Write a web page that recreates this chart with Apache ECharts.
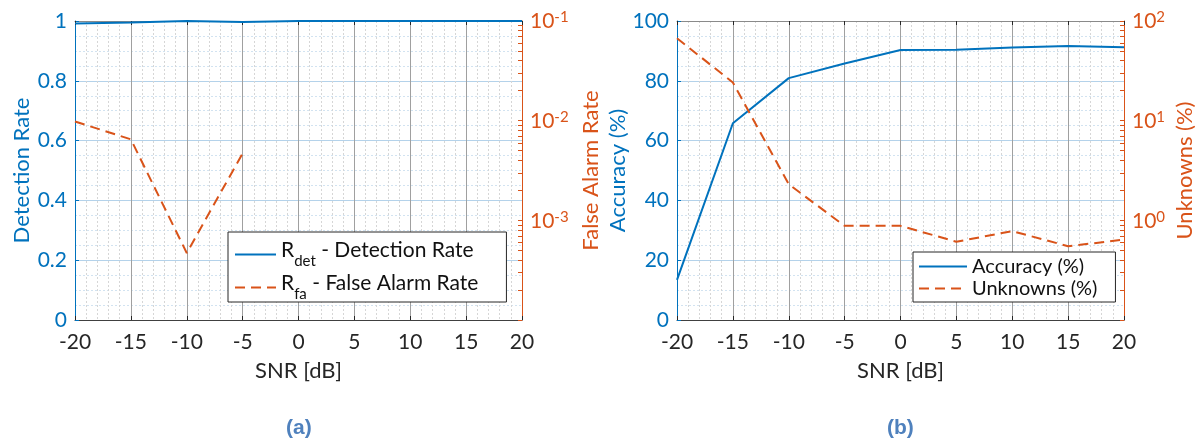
<!DOCTYPE html>
<html>
<head>
<meta charset="utf-8">
<script src="https://cdn.jsdelivr.net/npm/echarts@6/dist/echarts.min.js"></script>
<style>
  html, body { margin: 0; padding: 0; background: #fff; }
  #chart { width: 1204px; height: 446px; }
</style>
</head>
<body>
<div id="chart"></div>
<script>
// SNR sweep shared by both panels
const snr = [-20, -15, -10, -5, 0, 5, 10, 15, 20];

// Panel (a): detection rate (linear, left) and false alarm rate (log, right)
const detectionRate = [0.992, 0.995, 1.0, 0.997, 1.0, 1.0, 1.0, 1.0, 1.0];
const falseAlarmRate = [0.0098, 0.0065, 0.00047, 0.0047, null, null, null, null, null];

// Panel (b): accuracy (linear, left) and unknowns (log, right)
const accuracy = [13.4, 65.8, 80.9, 85.8, 90.3, 90.4, 91.1, 91.6, 91.2];
const unknowns = [67, 24.2, 2.3, 0.88, 0.88, 0.61, 0.78, 0.55, 0.64];

// Labelled decades on the log axes
const faDecades = [1e-3, 1e-2, 1e-1];
const unkDecades = [1, 10, 100];

// Legend texts (rich markup for the subscripts)
const legendA = {
  det: '{m|R}{sub|det}{m| - Detection Rate}',
  fa: '{m|R}{sub|fa}{m| - False Alarm Rate}'
};
const legendB = ['Accuracy (%)', 'Unknowns (%)'];

const FONT = 'Lato';
const BLUE = '#0072BD';
const ORANGE = '#D95319';
const INK = '#262626';

// minor ticks 1..9 x 10^k between the log axis limits
function logTicks(lo, hi) {
  const out = [];
  for (let d = lo; d < hi * 0.999; d *= 10) {
    for (let m = 1; m < 10; m++) out.push(+(d * m).toPrecision(3));
  }
  out.push(hi);
  return out;
}

function decadeLabel(v) {
  const e = Math.round(Math.log10(v));
  return '{b|10}{s|' + e + '}';
}

const supRich = {
  b: { fontSize: 21, lineHeight: 22, verticalAlign: 'bottom', color: ORANGE, fontFamily: FONT },
  s: { fontSize: 15, lineHeight: 14, padding: [0, 0, 14, 0], verticalAlign: 'top', color: ORANGE, fontFamily: FONT }
};

function pairs(values) {
  return snr.map((x, i) => [x, values[i]]);
}

function snrAxis(gridIndex, top) {
  return {
    type: 'value', gridIndex: gridIndex, position: top ? 'top' : 'bottom',
    min: -20, max: 20, interval: 5,
    name: top ? '' : 'SNR [dB]', nameLocation: 'middle', nameGap: 40,
    nameTextStyle: { fontSize: 22, color: INK, fontFamily: FONT },
    axisLine: { show: true, onZero: false, lineStyle: { color: top ? '#8a8a8a' : '#404040', width: 1 } },
    axisTick: { show: true, inside: true, length: 4, lineStyle: { color: INK } },
    axisLabel: { show: !top, margin: 12, fontSize: 21, color: INK, fontFamily: FONT, formatter: v => String(v) },
    splitLine: { show: !top, lineStyle: { color: '#a0a0a0', width: 1 } },
    minorTick: { show: false, splitNumber: 5 },
    minorSplitLine: { show: !top, lineStyle: { color: '#d6d6d6', width: 1, type: [2, 2] } }
  };
}

function linearAxis(gridIndex, max, interval, name, gap) {
  return {
    type: 'value', gridIndex: gridIndex, position: 'left',
    min: 0, max: max, interval: interval,
    name: name, nameLocation: 'middle', nameGap: gap, nameRotate: 90,
    nameTextStyle: { fontSize: 22, color: BLUE, fontFamily: FONT },
    axisLine: { show: true, onZero: false, lineStyle: { color: BLUE, width: 1 } },
    axisTick: { show: true, inside: true, length: 4, lineStyle: { color: BLUE } },
    axisLabel: { margin: 8, fontSize: 21, color: BLUE, fontFamily: FONT,
      formatter: v => String(parseFloat(v.toFixed(2))) },
    splitLine: { show: true, lineStyle: { color: '#b4d2ea', width: 1 } },
    minorTick: { show: false, splitNumber: 4 },
    minorSplitLine: { show: true, lineStyle: { color: '#d2e3f1', width: 1, type: [2, 2] } }
  };
}

function logAxis(gridIndex, min, max, decades, name, gap) {
  return {
    type: 'log', logBase: 10, gridIndex: gridIndex, position: 'right',
    min: min, max: max,
    name: name, nameLocation: 'middle', nameGap: gap, nameRotate: 90,
    nameTextStyle: { fontSize: 22, color: ORANGE, fontFamily: FONT },
    axisLine: { show: true, onZero: false, lineStyle: { color: ORANGE, width: 1 } },
    axisTick: { show: true, inside: true, length: 4, customValues: logTicks(min, max),
      lineStyle: { color: ORANGE } },
    axisLabel: { margin: 8, customValues: decades, formatter: decadeLabel, rich: supRich },
    splitLine: { show: false },
    minorTick: { show: false },
    minorSplitLine: { show: false }
  };
}

const legendBox = {
  orient: 'vertical', selectedMode: false,
  backgroundColor: '#ffffff', borderColor: INK, borderWidth: 1, borderRadius: 0,
  itemStyle: { opacity: 0 }
};

const chart = echarts.init(document.getElementById('chart'), null, { renderer: 'canvas' });

chart.setOption({
  animation: false,
  backgroundColor: '#ffffff',
  textStyle: { fontFamily: FONT },
  grid: [
    { left: 75, right: 682, top: 21, bottom: 126, containLabel: false },
    { left: 677, right: 80, top: 21, bottom: 126, containLabel: false }
  ],
  xAxis: [snrAxis(0, false), snrAxis(0, true), snrAxis(1, false), snrAxis(1, true)],
  yAxis: [
    linearAxis(0, 1, 0.2, 'Detection Rate', 42),
    logAxis(0, 1e-4, 1e-1, faDecades, 'False Alarm Rate', 58),
    linearAxis(1, 100, 20, 'Accuracy (%)', 42),
    logAxis(1, 0.1, 100, unkDecades, 'Unknowns (%)', 50)
  ],
  legend: [
    Object.assign({}, legendBox, {
      left: 228, top: 232, data: ['det', 'fa'],
      formatter: n => legendA[n],
      itemWidth: 41, itemHeight: 14, itemGap: 4,
      padding: [8, 28, 0, 6],
      textStyle: {
        fontSize: 21, color: '#111', fontFamily: FONT,
        rich: {
          m: { fontSize: 21, verticalAlign: 'top', color: '#111', fontFamily: FONT },
          sub: { fontSize: 15, padding: [14, 0, 0, 0], verticalAlign: 'bottom', color: '#111', fontFamily: FONT }
        }
      }
    }),
    Object.assign({}, legendBox, {
      left: 913, top: 252, data: legendB,
      itemWidth: 48, itemHeight: 14, itemGap: 1,
      padding: [4, 18, 3, 5],
      textStyle: { fontSize: 20, lineHeight: 21, color: '#111', fontFamily: FONT }
    })
  ],
  series: [
    { name: 'det', type: 'line', xAxisIndex: 0, yAxisIndex: 0, data: pairs(detectionRate),
      symbol: 'none', lineStyle: { color: BLUE, width: 2 }, itemStyle: { color: BLUE } },
    { name: 'fa', type: 'line', xAxisIndex: 0, yAxisIndex: 1, data: pairs(falseAlarmRate),
      symbol: 'none', lineStyle: { color: ORANGE, width: 2, type: [10, 6] }, itemStyle: { color: ORANGE } },
    { name: legendB[0], type: 'line', xAxisIndex: 2, yAxisIndex: 2, data: pairs(accuracy),
      symbol: 'none', lineStyle: { color: BLUE, width: 2 }, itemStyle: { color: BLUE } },
    { name: legendB[1], type: 'line', xAxisIndex: 2, yAxisIndex: 3, data: pairs(unknowns),
      symbol: 'none', lineStyle: { color: ORANGE, width: 2, type: [10, 6] }, itemStyle: { color: ORANGE } }
  ],
  graphic: [
    { type: 'text', left: 286, top: 418,
      style: { text: '(a)', font: 'bold 21px "Liberation Sans"', fill: '#4f81bd' } },
    { type: 'text', left: 887, top: 418,
      style: { text: '(b)', font: 'bold 21px "Liberation Sans"', fill: '#4f81bd' } }
  ]
});
</script>
</body>
</html>
